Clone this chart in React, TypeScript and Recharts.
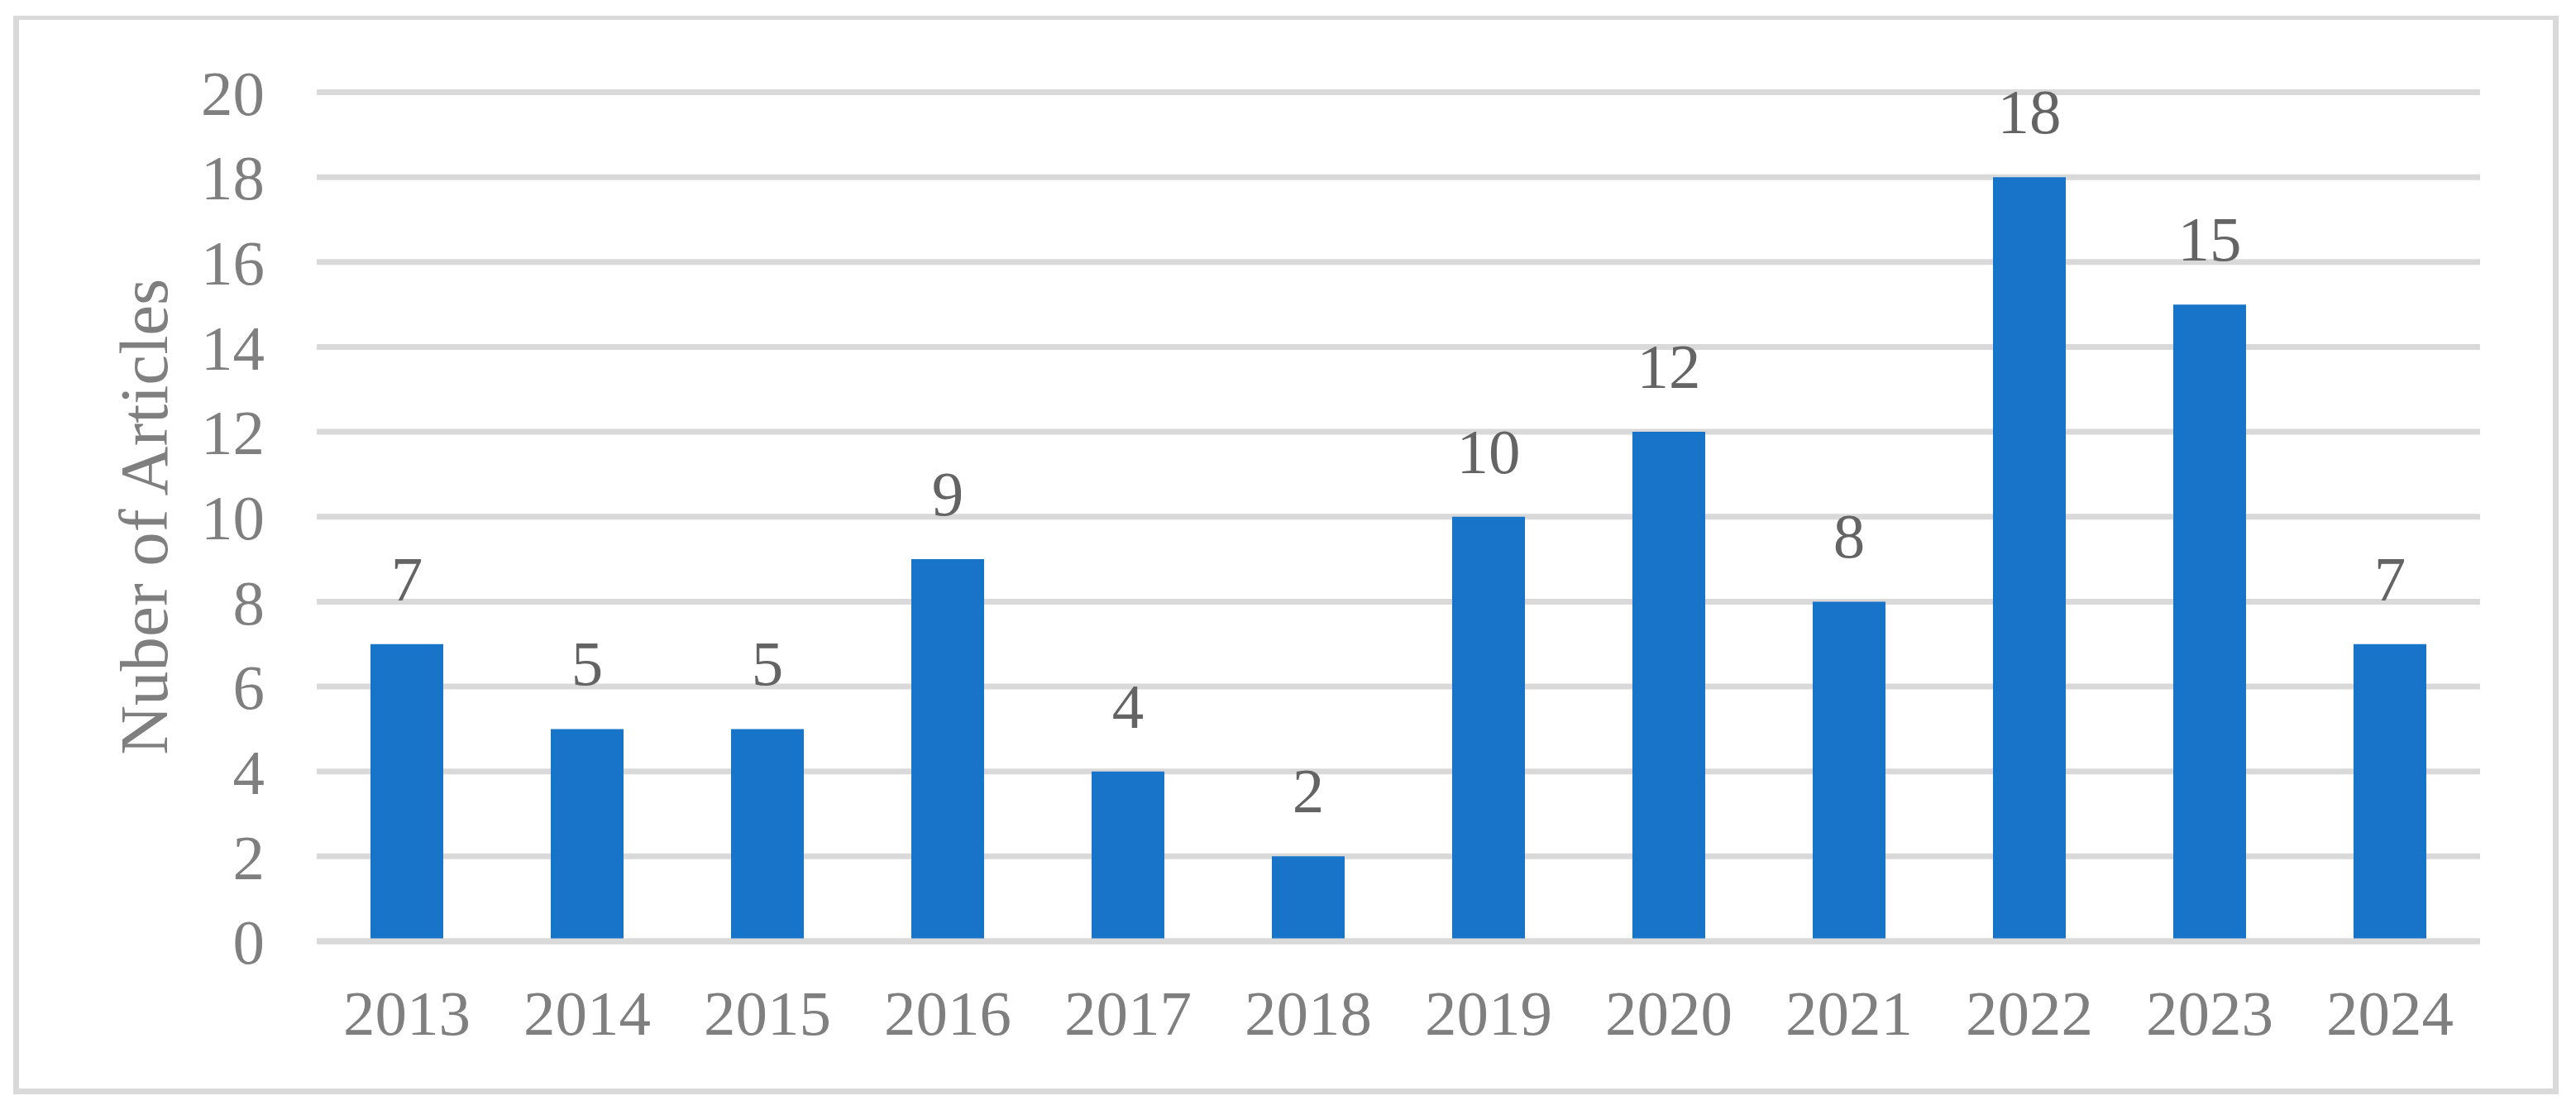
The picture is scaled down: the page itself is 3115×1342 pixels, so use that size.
import React from 'react';
import { BarChart, Bar, XAxis, YAxis, CartesianGrid, LabelList } from 'recharts';

const years = ['2013', '2014', '2015', '2016', '2017', '2018', '2019', '2020', '2021', '2022', '2023', '2024'];
const articles = [7, 5, 5, 9, 4, 2, 10, 12, 8, 18, 15, 7];
const yTicks = [0, 2, 4, 6, 8, 10, 12, 14, 16, 18, 20];
const yLabel = 'Nuber of Articles';

const data = years.map((year, i) => ({ year, count: articles[i] }));

const FONT = '"Liberation Serif", "Times New Roman", serif';
const GRID = '#d9d9d9';
const TICK = '#7f7f7f';
const LABEL = '#646464';
const BAR = '#1874c9';

const renderValueLabel = (props: any) => {
  const { x, y, width, value } = props;
  return (
    <text
      x={Number(x) + Number(width) / 2}
      y={Number(y) - 53}
      textAnchor="middle"
      fontFamily={FONT}
      fontSize={77}
      fill={LABEL}
    >
      {value}
    </text>
  );
};

const renderYLabel = (props: any) => {
  const vb = props.viewBox || {};
  const cy = vb.y + vb.height / 2;
  const bx = 202;
  return (
    <text
      x={bx}
      y={cy}
      transform={`rotate(-90, ${bx}, ${cy})`}
      textAnchor="middle"
      fontFamily={FONT}
      fontSize={83}
      fill={TICK}
    >
      {yLabel}
    </text>
  );
};

export default function App() {
  return (
    <div style={{ position: 'absolute', left: 0, top: 0, width: 3115, height: 1342, background: '#fff' }}>
      <div
        style={{
          position: 'absolute',
          left: 16,
          top: 19,
          width: 3078,
          height: 1304,
          boxSizing: 'border-box',
          borderStyle: 'solid',
          borderColor: GRID,
          borderWidth: '5px 7px 7px 7px',
        }}
      />
      <div style={{ position: 'absolute', left: 0, top: 0 }}>
        <BarChart
          width={3115}
          height={1342}
          data={data}
          margin={{ top: 111.5, right: 116, bottom: 104, left: 0 }}
        >
          <CartesianGrid vertical={false} stroke={GRID} strokeWidth={7} />
          <XAxis
            dataKey="year"
            height={100}
            axisLine={{ stroke: GRID, strokeWidth: 7 }}
            tickLine={false}
            tickSize={0}
            tickMargin={58}
            tick={{ fontFamily: FONT, fontSize: 77, fill: TICK }}
            interval={0}
          />
          <YAxis
            width={383}
            domain={[0, 20]}
            ticks={yTicks}
            interval={0}
            axisLine={false}
            tickLine={false}
            tickSize={0}
            tickMargin={63}
            tick={{ fontFamily: FONT, fontSize: 77, fill: TICK }}
            label={renderYLabel}
          />
          <Bar dataKey="count" fill={BAR} barSize={88} isAnimationActive={false}>
            <LabelList dataKey="count" content={renderValueLabel} />
          </Bar>
        </BarChart>
      </div>
    </div>
  );
}
